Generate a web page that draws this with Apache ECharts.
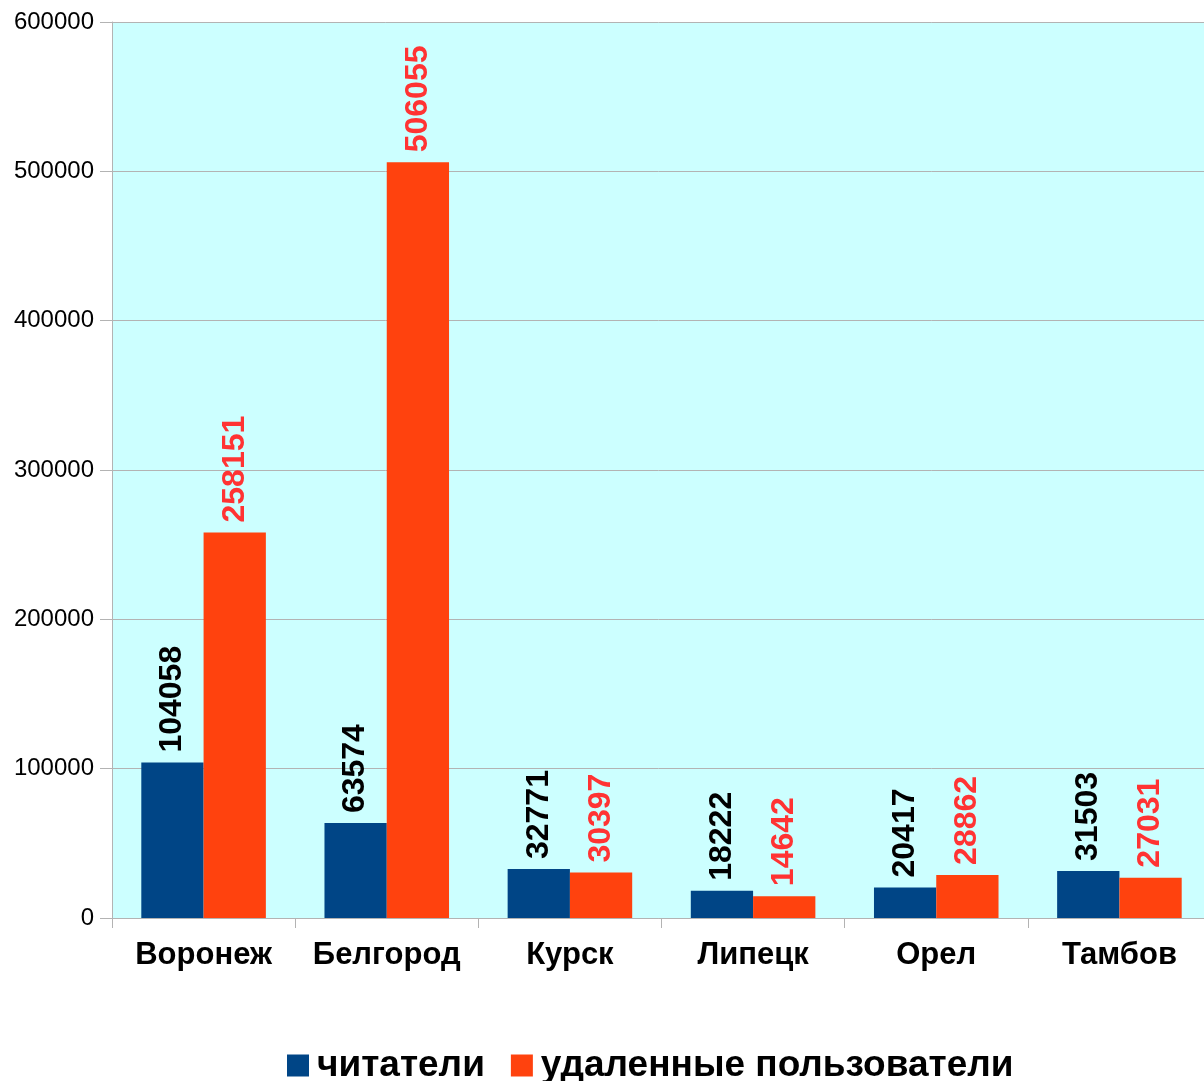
<!DOCTYPE html>
<html><head><meta charset="utf-8">
<script src="https://cdn.jsdelivr.net/npm/echarts@6/dist/echarts.min.js"></script>
<style>html,body{margin:0;padding:0;background:#fff}#c{width:1204px;height:1081px}</style>
</head><body><div id="c"></div>
<script>
const categories = ['Воронеж','Белгород','Курск','Липецк','Орел','Тамбов'];
const readers = [104058, 63574, 32771, 18222, 20417, 31503];
const remoteUsers = [258151, 506055, 30397, 14642, 28862, 27031];
const seriesNames = ['читатели','удаленные пользователи'];

const chart = echarts.init(document.getElementById('c'));
const labelBase = {show:true, position:'top', rotate:90, align:'left', verticalAlign:'middle', distance:10,
  fontFamily:'Liberation Sans', fontWeight:'bold', fontSize:32};
chart.setOption({
  animation:false,
  textStyle:{fontFamily:'Liberation Sans'},
  grid:{left:112, width:1099, top:22, height:896, outerBoundsMode:'none', containLabel:false,
    show:true, backgroundColor:'#ccffff', borderWidth:0},
  legend:{top:1047, left:287, padding:0, itemWidth:22, itemHeight:22, itemGap:26, icon:'rect',
    textStyle:{fontSize:37, fontWeight:'bold', color:'#000', fontFamily:'Liberation Sans', padding:[0,0,0,3]},
    data:seriesNames},
  xAxis:{type:'category', data:categories,
    axisLine:{lineStyle:{color:'#b3b3b3'}},
    axisTick:{show:true, length:10, lineStyle:{color:'#b3b3b3'}},
    axisLabel:{interval:0, fontSize:31, fontWeight:'bold', color:'#000', margin:22, fontFamily:'Liberation Sans'}},
  yAxis:{type:'value', min:0, max:600000, interval:100000,
    axisLine:{show:true, lineStyle:{color:'#b3b3b3'}},
    axisTick:{show:true, length:12, lineStyle:{color:'#b3b3b3'}},
    splitLine:{lineStyle:{color:'#b3b3b3'}},
    axisLabel:{fontSize:24, color:'#000', margin:18, fontFamily:'Liberation Sans',
      formatter:function(v){return String(v);}}},
  series:[
    {name:seriesNames[0], type:'bar', data:readers, barGap:'0%', barCategoryGap:'32%',
     itemStyle:{color:'#004586'}, label:Object.assign({color:'#000'}, labelBase)},
    {name:seriesNames[1], type:'bar', data:remoteUsers, barGap:'0%', barCategoryGap:'32%',
     itemStyle:{color:'#ff420e'}, label:Object.assign({color:'#ff3333'}, labelBase)}
  ]
});
</script></body></html>
